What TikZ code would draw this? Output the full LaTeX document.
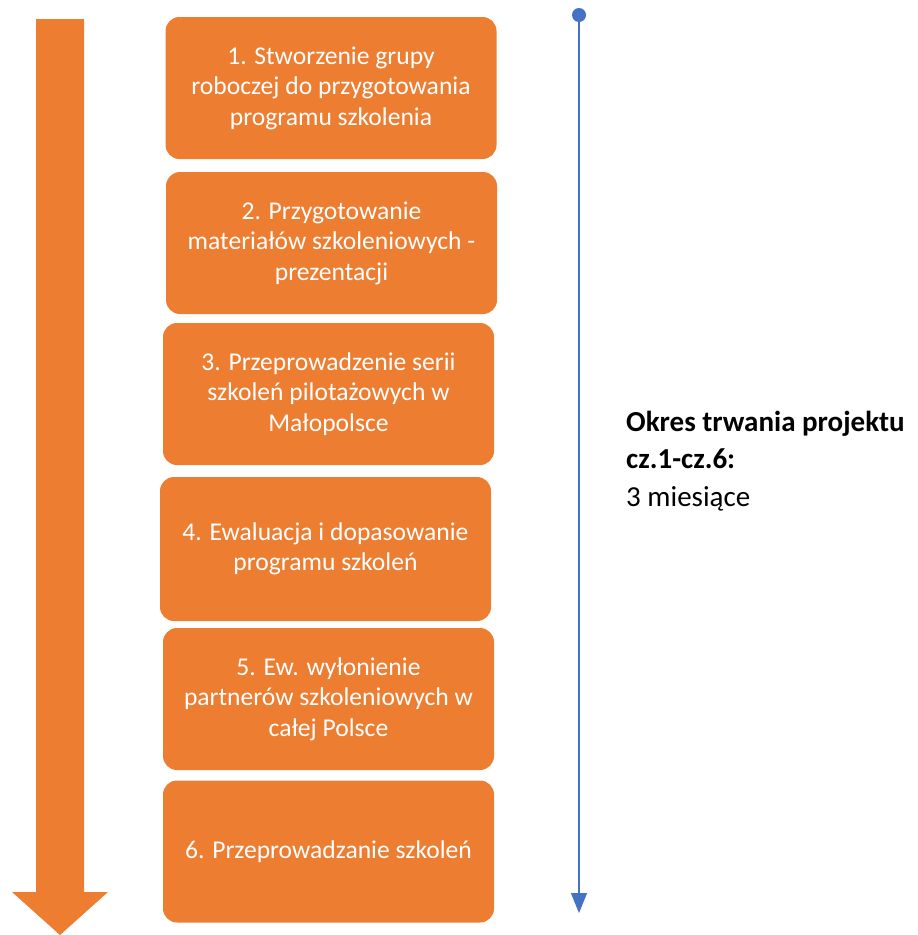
\documentclass[tikz,border=0pt]{standalone}
\usepackage{fontspec}
\setmainfont{Carlito}
\usetikzlibrary{positioning}
\usetikzlibrary{arrows.meta}
\definecolor{stepOrange}{RGB}{237,125,49}
\definecolor{lineBlue}{RGB}{68,114,196}
\begin{document}
\begin{tikzpicture}[x=1pt,y=-1pt]
		\tikzstyle{every node}+=[inner sep=0pt]
		\tikzstyle{stepbox}=[fill=stepOrange, rounded corners=14pt, minimum width=331pt, minimum height=142pt, text=white, align=center, font=\fontsize{25.6}{30.5}\selectfont]
		\useasboundingbox (0,0) rectangle (918,935);
		\fill [stepOrange] (36,19) -- (84,19) -- (84,892) -- (108,892) -- (60,935) -- (12,892) -- (36,892) -- cycle;
		\node [stepbox] (S1) at (331,88) {1. Stworzenie grupy\\roboczej do przygotowania\\programu szkolenia};
		\node [stepbox] (S2) at (331.5,243) {2. Przygotowanie\\materiałów szkoleniowych -\\prezentacji};
		\node [stepbox] (S3) at (328.5,394) {3. Przeprowadzenie serii\\szkoleń pilotażowych w\\Małopolsce};
		\node [stepbox, minimum height=144pt] (S4) at (325.5,549) {4. Ewaluacja i dopasowanie\\programu szkoleń};
		\node [stepbox] (S5) at (328.5,699) {5. Ew. wyłonienie\\partnerów szkoleniowych w\\całej Polsce};
		\node [stepbox] (S6) at (328.5,851.5) {6. Przeprowadzanie szkoleń};
		\coordinate (T0) at (579,15);
		\coordinate (T1) at (579,913);
		\fill [lineBlue] (T0) circle (7);
		\draw [lineBlue, line width=1.5pt, -{Triangle[length=20pt,width=16pt]}] (T0) -- (T1);
		\node [anchor=base west, align=left, font=\fontsize{29}{37.5}\selectfont] (period) at (626,506) {\textbf{Okres trwania projektu}\\\textbf{cz.1-cz.6:}\\3 miesiące};
\end{tikzpicture}
\end{document}
